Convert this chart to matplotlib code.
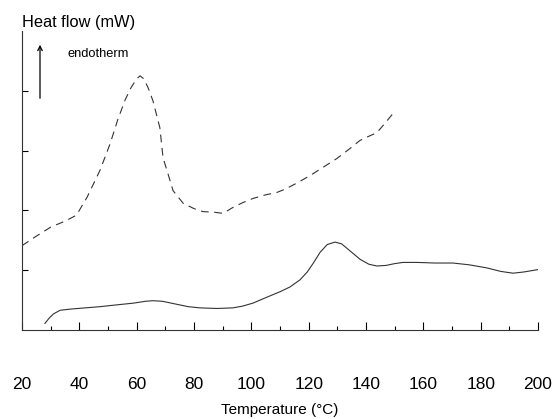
import matplotlib
matplotlib.use("Agg")
import matplotlib.pyplot as plt
from matplotlib.ticker import MultipleLocator

# Dashed curve (upper)
t_dash = [20, 25, 30, 35, 39, 42.7, 47.2, 50.7, 53.5, 56, 58, 60, 61.2, 62.5, 64, 65.7, 68.1, 69.2,
          71, 72.7, 76.2, 80, 83.1, 87, 90.1, 93.6, 97, 100.6, 105, 108.9, 112, 116, 120.4, 125,
          129.9, 134, 137.9, 141, 143.8, 146.5, 149.4]
y_dash = [1.41, 1.57, 1.72, 1.82, 1.92, 2.22, 2.67, 3.11, 3.53, 3.85, 4.05, 4.2, 4.25, 4.2, 4.05, 3.83, 3.38, 2.88,
          2.6, 2.33, 2.12, 2.03, 1.98, 1.97, 1.95, 2.05, 2.13, 2.2, 2.26, 2.3, 2.36, 2.46, 2.58, 2.72,
          2.87, 3.02, 3.17, 3.24, 3.3, 3.45, 3.62]

# Solid curve (lower)
t_solid = [28, 29.5, 31, 33.3, 37, 42, 47.2, 53, 59, 63, 65.7, 69, 74, 78, 82.1, 88, 93.6, 97, 100.6, 104,
           107, 110, 113.5, 117, 119.5, 121.5, 124, 126.5, 129.2, 131.5, 133.5, 135.5, 138, 141, 143.8,
           147, 150, 152.9, 158, 164, 170.3, 176, 182, 187, 191.3, 195, 200]
y_solid = [0.11, 0.2, 0.27, 0.33, 0.35, 0.37, 0.39, 0.42, 0.45, 0.48, 0.49, 0.48, 0.43, 0.39, 0.37, 0.36, 0.37, 0.4, 0.45, 0.52,
           0.58, 0.64, 0.72, 0.84, 0.97, 1.11, 1.3, 1.43, 1.47, 1.44, 1.36, 1.28, 1.18, 1.1, 1.07,
           1.08, 1.11, 1.13, 1.13, 1.12, 1.12, 1.09, 1.04, 0.98, 0.95, 0.97, 1.01]

xticks = [20, 40, 60, 80, 100, 120, 140, 160, 180, 200]

plt.rcParams['font.family'] = ['Liberation Sans', 'DejaVu Sans']

fig = plt.figure(figsize=(5.55, 4.19), dpi=100)
ax = fig.add_axes([22/555, 1 - 330/419, (538-22)/555, (330-31)/419])

ax.plot(t_dash, y_dash, color='#333333', lw=0.8, dashes=(7, 5))
ax.plot(t_solid, y_solid, color='#333333', lw=0.8)

ax.set_xlim(20, 200)
ax.set_ylim(0, 5)
ax.set_xticks(xticks)
ax.xaxis.set_minor_locator(MultipleLocator(10))
ax.set_yticks([1, 2, 3, 4])
ax.set_yticklabels([])
ax.tick_params(axis='x', which='major', direction='in', length=6, width=0.8, pad=34, labelsize=12.5)
ax.tick_params(axis='x', which='minor', direction='in', length=3, width=0.8)
ax.tick_params(axis='y', direction='in', length=4, width=0.8)
for s in ['top', 'right']:
    ax.spines[s].set_visible(False)
for s in ['left', 'bottom']:
    ax.spines[s].set_linewidth(0.8)
    ax.spines[s].set_color('#333333')

ax.set_xlabel('Temperature (°C)', fontsize=11, labelpad=8)

fig.text(22/555, 1 - 23/419, 'Heat flow (mW)', fontsize=11.8, va='center', ha='left')
fig.text(67/555, 1 - 54/419, 'endotherm', fontsize=9.3, va='center', ha='left')
ax.annotate('', xy=(40/555, 1 - 42/419), xytext=(40/555, 1 - 101/419),
            xycoords='figure fraction', textcoords='figure fraction',
            arrowprops=dict(arrowstyle='->', lw=0.9, color='black', mutation_scale=8))

fig.savefig('out.png', dpi=100)
